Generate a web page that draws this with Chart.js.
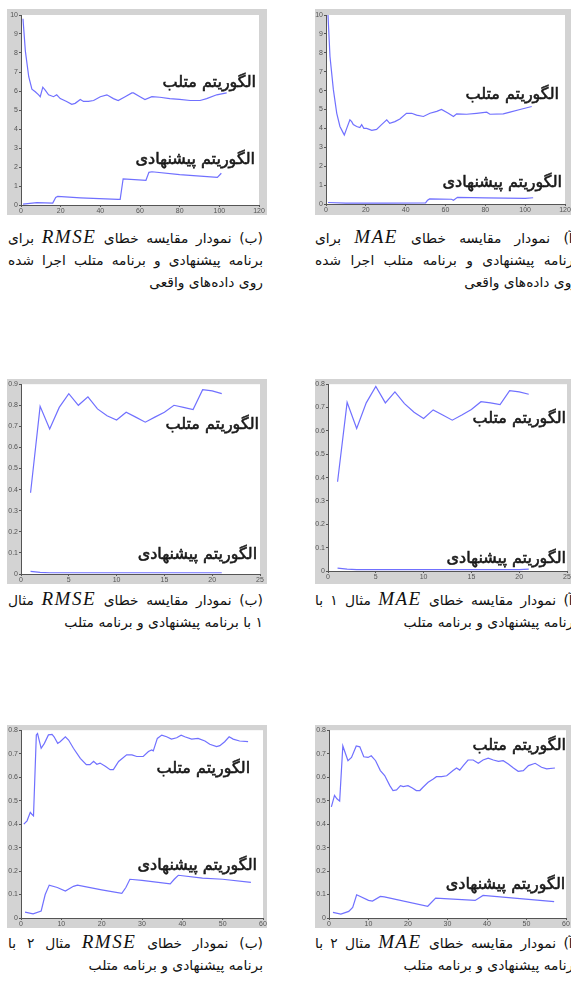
<!DOCTYPE html>
<html lang="fa">
<head>
<meta charset="UTF-8">
<title>MAE / RMSE</title>
<script src="https://cdn.jsdelivr.net/npm/chart.js@4.4.1/dist/chart.umd.min.js"></script>
<style>
  body { margin: 0; width: 571px; height: 985px; overflow: hidden; background: #fff; position: relative; }
  .frame { position: absolute; background: #d3d3d3; }
  .frame canvas { display: block; }
  .cap { position: absolute; direction: rtl; font-family: "DejaVu Sans"; font-size: 13.8px; color: #111; line-height: 22px; }
  .cap div { white-space: nowrap; }
  .cap .j { text-align: justify; text-align-last: justify; }
  .m { font-family: "Liberation Serif"; font-style: italic; font-size: 19px; letter-spacing: 1.5px; }
</style>
</head>
<body>

<div class="frame" id="f1"><canvas id="c1"></canvas></div>
<div class="frame" id="f2"><canvas id="c2"></canvas></div>
<div class="frame" id="f3"><canvas id="c3"></canvas></div>
<div class="frame" id="f4"><canvas id="c4"></canvas></div>
<div class="frame" id="f5"><canvas id="c5"></canvas></div>
<div class="frame" id="f6"><canvas id="c6"></canvas></div>

<!-- captions -->
<div class="cap" style="left:8px; top:226px; width:255px;">
  <div class="j">(ب) نمودار مقایسه خطای <span class="m">RMSE</span> برای</div>
  <div class="j">برنامه پیشنهادی و برنامه متلب اجرا شده</div>
  <div>روی داده‌های واقعی</div>
</div>
<div class="cap" style="left:315px; top:226px; width:263px;">
  <div class="j">(آ) نمودار مقایسه خطای <span class="m">MAE</span> برای</div>
  <div class="j">برنامه پیشنهادی و برنامه متلب اجرا شده</div>
  <div>روی داده‌های واقعی</div>
</div>
<div class="cap" style="left:8px; top:588px; width:255px;">
  <div class="j">(ب) نمودار مقایسه خطای <span class="m">RMSE</span> مثال</div>
  <div>۱ با برنامه پیشنهادی و برنامه متلب</div>
</div>
<div class="cap" style="left:315px; top:588px; width:263px;">
  <div class="j">(آ) نمودار مقایسه خطای <span class="m">MAE</span> مثال ۱ با</div>
  <div>برنامه پیشنهادی و برنامه متلب</div>
</div>
<div class="cap" style="left:8px; top:931px; width:255px;">
  <div class="j">(ب) نمودار خطای <span class="m">RMSE</span> مثال ۲ با</div>
  <div>برنامه پیشنهادی و برنامه متلب</div>
</div>
<div class="cap" style="left:315px; top:931px; width:263px;">
  <div class="j">(آ) نمودار مقایسه خطای <span class="m">MAE</span> مثال ۲ با</div>
  <div>برنامه پیشنهادی و برنامه متلب</div>
</div>

<script>
// ---- data ----
const labelMatlab = 'الگوریتم متلب';
const labelProposed = 'الگوریتم پیشنهادی';

// real data, RMSE
const rmseRealMatlabX = [1, 2.2, 3.9, 5.5, 7.2, 8.9, 9.7, 11, 12.2, 13.9, 16.4, 18, 19.8, 23, 25.6, 27.3, 29.9, 31.5, 34, 36.6, 40, 43.3, 46.6, 49, 52.5, 55.9, 56.7, 60, 62.5, 66, 70, 75, 80, 85.3, 90.3, 93.6, 98.7, 103.7];
const rmseRealMatlabY = [9.8, 8.1, 6.75, 6.1, 5.96, 5.8, 5.7, 6.2, 6.05, 5.8, 5.7, 5.8, 5.6, 5.45, 5.3, 5.35, 5.55, 5.45, 5.45, 5.5, 5.7, 5.8, 5.6, 5.5, 5.7, 5.9, 5.9, 5.7, 5.55, 5.7, 5.67, 5.6, 5.56, 5.5, 5.5, 5.6, 5.8, 5.9];
const rmseRealPropX = [1, 8, 16, 17.5, 18.5, 30, 49, 50, 51.5, 63, 64.5, 66, 80, 99, 101];
const rmseRealPropY = [0.05, 0.12, 0.1, 0.4, 0.45, 0.38, 0.3, 0.3, 1.38, 1.3, 1.72, 1.75, 1.6, 1.45, 1.67];

// real data, MAE
const maeRealMatlabX = [1, 2, 3.7, 5.4, 7, 8.7, 9.2, 10.4, 12, 12.9, 13.7, 15.4, 17, 17.9, 19, 20.4, 23, 25.4, 27.9, 30.5, 32, 34.6, 37.1, 40.4, 43, 45.5, 48.9, 52.2, 55.6, 58, 61.4, 64, 65.6, 70.6, 75.6, 80.7, 82.3, 89, 92.4, 97.4, 103.3];
const maeRealMatlabY = [10, 7.8, 6.05, 4.8, 4.1, 3.75, 3.65, 4.0, 4.45, 4.36, 4.2, 4.1, 4.05, 4.2, 4.0, 4.0, 3.9, 3.95, 4.2, 4.45, 4.27, 4.36, 4.5, 4.8, 4.8, 4.7, 4.63, 4.8, 4.9, 5.0, 4.8, 4.63, 4.77, 4.75, 4.8, 4.86, 4.75, 4.77, 4.86, 5.0, 5.16];
const maeRealPropX = [1, 10, 30, 50, 51, 52, 63, 64, 66, 80, 100, 104];
const maeRealPropY = [0.08, 0.05, 0.05, 0.06, 0.2, 0.27, 0.25, 0.2, 0.35, 0.32, 0.3, 0.33];

// example 1 (x = 1..21)
const ex1X = [1, 2, 3, 4, 5, 6, 7, 8, 9, 10, 11, 12, 13, 14, 15, 16, 17, 18, 19, 20, 21];
const rmseEx1Matlab = [0.385, 0.795, 0.688, 0.79, 0.855, 0.8, 0.84, 0.783, 0.75, 0.73, 0.767, 0.744, 0.72, 0.744, 0.767, 0.8, 0.79, 0.78, 0.874, 0.868, 0.855];
const rmseEx1Prop = [0.012, 0.008, 0.006, 0.006, 0.006, 0.006, 0.006, 0.006, 0.006, 0.006, 0.006, 0.006, 0.006, 0.006, 0.006, 0.006, 0.006, 0.006, 0.006, 0.006, 0.006];
const maeEx1Matlab = [0.382, 0.722, 0.61, 0.72, 0.79, 0.72, 0.767, 0.717, 0.68, 0.653, 0.69, 0.668, 0.646, 0.668, 0.692, 0.725, 0.72, 0.713, 0.772, 0.767, 0.757];
const maeEx1Prop = [0.012, 0.008, 0.006, 0.006, 0.006, 0.006, 0.006, 0.006, 0.006, 0.006, 0.006, 0.006, 0.006, 0.006, 0.006, 0.006, 0.006, 0.006, 0.006, 0.006, 0.008];

// example 2, RMSE
const rmseEx2MatlabX = [0.7, 1.5, 2.3, 2.7, 3.1, 3.8, 4.1, 5, 5.8, 6.8, 7.7, 8.2, 9.1, 9.7, 11, 11.8, 13, 14.7, 16.2, 17.1, 18, 18.8, 19.6, 20.9, 22.1, 22.9, 24.2, 26.2, 27.5, 28.7, 30.3, 31.6, 32.4, 32.8, 33.8, 34.9, 36.1, 37.3, 38.6, 39.7, 40.6, 42.3, 43.9, 45.6, 46.8, 48.5, 49.3, 50.5, 51.6, 52.6, 54.2, 56.3];
const rmseEx2MatlabY = [0.4, 0.414, 0.45, 0.442, 0.435, 0.78, 0.786, 0.723, 0.744, 0.78, 0.782, 0.772, 0.744, 0.751, 0.772, 0.758, 0.723, 0.68, 0.653, 0.653, 0.667, 0.655, 0.66, 0.646, 0.632, 0.632, 0.667, 0.695, 0.695, 0.688, 0.688, 0.709, 0.716, 0.712, 0.765, 0.779, 0.772, 0.762, 0.768, 0.779, 0.772, 0.762, 0.765, 0.754, 0.74, 0.73, 0.734, 0.751, 0.772, 0.762, 0.754, 0.751];
const rmseEx2PropX = [1, 3, 5, 6, 7, 9, 11, 13, 14, 20, 25, 26, 27, 30, 37, 38, 39, 45, 50, 57];
const rmseEx2PropY = [0.025, 0.018, 0.03, 0.1, 0.14, 0.13, 0.115, 0.135, 0.14, 0.12, 0.105, 0.13, 0.165, 0.16, 0.145, 0.165, 0.182, 0.17, 0.165, 0.152];

// example 2, MAE
const maeEx2MatlabX = [0.6, 1.4, 2, 2.7, 3.5, 4.8, 5.7, 6.9, 7.8, 8.8, 9.9, 10.7, 11.8, 13, 14.1, 15.4, 16.2, 17.1, 18.1, 18.8, 20, 21.1, 22.1, 23, 23.8, 25.1, 26.4, 27.2, 28.5, 29.8, 31.4, 32.3, 33.1, 34, 35.2, 36.5, 37.8, 39, 40.3, 41.6, 42.9, 44.1, 45.4, 46.7, 47.9, 49.2, 50.5, 52.2, 53.8, 55.1, 57.2];
const maeEx2MatlabY = [0.473, 0.522, 0.508, 0.498, 0.733, 0.67, 0.684, 0.733, 0.729, 0.687, 0.684, 0.691, 0.67, 0.628, 0.607, 0.564, 0.543, 0.546, 0.564, 0.56, 0.564, 0.554, 0.543, 0.543, 0.557, 0.578, 0.592, 0.602, 0.602, 0.606, 0.628, 0.639, 0.63, 0.649, 0.673, 0.673, 0.659, 0.673, 0.681, 0.673, 0.667, 0.67, 0.656, 0.639, 0.625, 0.628, 0.649, 0.659, 0.642, 0.635, 0.639];
const maeEx2PropX = [1, 3, 5, 6, 7, 10, 11, 13, 14, 25, 27, 37, 39, 57];
const maeEx2PropY = [0.024, 0.017, 0.028, 0.045, 0.099, 0.075, 0.072, 0.092, 0.09, 0.05, 0.085, 0.075, 0.096, 0.07];

// ---- layout: frame box, axis space, scale range, where the two labels go (data coords) ----
const panels = [
  { id: 1, x: 7,   y: 9,   w: 260, h: 206, left: 14, top: 6, right: 8,  bottom: 10, xMax: 120, xStep: 20, yMax: 10,  yStep: 1,
    mx: rmseRealMatlabX, my: rmseRealMatlabY, px: rmseRealPropX, py: rmseRealPropY, lm: [118.5, 6.45], lp: [118, 2.37] },
  { id: 2, x: 315, y: 9,   w: 262, h: 206, left: 11, top: 6, right: 12, bottom: 11, xMax: 120, xStep: 20, yMax: 10,  yStep: 1,
    mx: maeRealMatlabX, my: maeRealMatlabY, px: maeRealPropX, py: maeRealPropY, lm: [117, 5.77], lp: [118.5, 1.1] },
  { id: 3, x: 7,   y: 379, w: 260, h: 205, left: 14, top: 5, right: 7,  bottom: 10, xMax: 25,  xStep: 5,  yMax: 0.9, yStep: 0.1,
    mx: ex1X, my: rmseEx1Matlab, px: ex1X, py: rmseEx1Prop, lm: [24.9, 0.706], lp: [24.7, 0.09] },
  { id: 4, x: 315, y: 379, w: 262, h: 205, left: 13, top: 5, right: 10, bottom: 13, xMax: 25,  xStep: 5,  yMax: 0.8, yStep: 0.1,
    mx: ex1X, my: maeEx1Matlab, px: ex1X, py: maeEx1Prop, lm: [24.9, 0.65], lp: [24.9, 0.051] },
  { id: 5, x: 7,   y: 725, w: 260, h: 203, left: 14, top: 4, right: 4,  bottom: 10, xMax: 60,  xStep: 10, yMax: 0.8, yStep: 0.1,
    mx: rmseEx2MatlabX, my: rmseEx2MatlabY, px: rmseEx2PropX, py: rmseEx2PropY, lm: [56.8, 0.635], lp: [58.5, 0.224] },
  { id: 6, x: 315, y: 725, w: 262, h: 203, left: 14, top: 4, right: 11, bottom: 10, xMax: 60,  xStep: 10, yMax: 0.8, yStep: 0.1,
    mx: maeEx2MatlabX, my: maeEx2MatlabY, px: maeEx2PropX, py: maeEx2PropY, lm: [60, 0.732], lp: [59.8, 0.14] }
];

const lineColor = '#7070ff';

function pts(xs, ys) {
  return xs.map((v, i) => ({ x: v, y: ys[i] }));
}

// white plotting area on the grey figure background
const plotBg = {
  id: 'plotBg',
  beforeDraw(chart) {
    const a = chart.chartArea, ctx = chart.ctx;
    ctx.save();
    ctx.fillStyle = '#fff';
    ctx.fillRect(a.left, a.top, a.right - a.left, a.bottom - a.top);
    ctx.restore();
  }
};

// the two text labels written inside each plot
const algoLabels = {
  id: 'algoLabels',
  afterDraw(chart, args, opts) {
    const ctx = chart.ctx, xs = chart.scales.x, ys = chart.scales.y;
    ctx.save();
    ctx.font = '16px "DejaVu Sans"';
    ctx.fillStyle = '#1a1a1a';
    ctx.strokeStyle = '#1a1a1a';
    ctx.lineWidth = 0.6;
    ctx.direction = 'rtl';
    ctx.textAlign = 'right';
    ctx.textBaseline = 'middle';
    opts.items.forEach(it => {
      const px = xs.getPixelForValue(it.at[0]), py = ys.getPixelForValue(it.at[1]);
      ctx.fillText(it.text, px, py);
      ctx.strokeText(it.text, px, py);
    });
    ctx.restore();
  }
};

panels.forEach(p => {
  const frame = document.getElementById('f' + p.id);
  frame.style.left = p.x + 'px';
  frame.style.top = p.y + 'px';
  frame.style.width = p.w + 'px';
  frame.style.height = p.h + 'px';
  const cv = document.getElementById('c' + p.id);
  cv.width = p.w;
  cv.height = p.h;

  const tickFont = { family: 'Liberation Sans', size: 7 };
  new Chart(cv, {
    type: 'line',
    data: {
      datasets: [
        { data: pts(p.mx, p.my), borderColor: lineColor, borderWidth: 1.2, pointRadius: 0, tension: 0 },
        { data: pts(p.px, p.py), borderColor: lineColor, borderWidth: 1.2, pointRadius: 0, tension: 0 }
      ]
    },
    options: {
      responsive: false,
      animation: false,
      layout: { padding: { top: p.top, right: p.right, left: 0, bottom: 0 } },
      plugins: {
        legend: { display: false },
        tooltip: { enabled: false },
        algoLabels: { items: [ { text: labelMatlab, at: p.lm }, { text: labelProposed, at: p.lp } ] }
      },
      scales: {
        x: {
          type: 'linear', min: 0, max: p.xMax,
          afterFit: s => { s.height = p.bottom; },
          ticks: { stepSize: p.xStep, font: tickFont, color: '#555', padding: 0, maxRotation: 0, autoSkip: false },
          grid: { drawOnChartArea: false, tickLength: 2, color: '#555' },
          border: { color: '#555', width: 1 }
        },
        y: {
          min: 0, max: p.yMax,
          afterFit: s => { s.width = p.left; },
          ticks: { stepSize: p.yStep, font: tickFont, color: '#555', padding: 1, autoSkip: false },
          grid: { drawOnChartArea: false, tickLength: 2, color: '#555' },
          border: { color: '#555', width: 1 }
        }
      }
    },
    plugins: [plotBg, algoLabels]
  });
});
</script>
</body>
</html>
